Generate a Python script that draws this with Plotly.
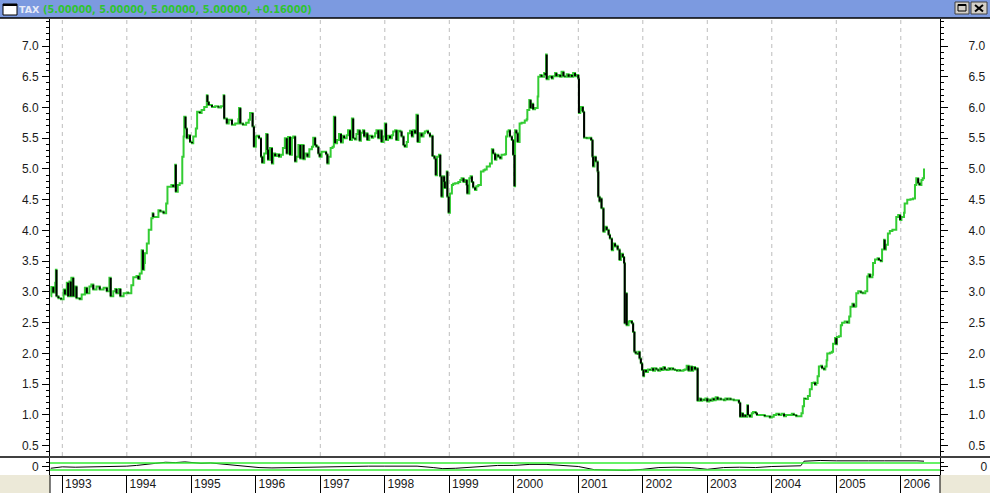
"""TAX rate chart with its oscillator pane, drawn with plotly."""

import plotly.graph_objects as go

# weekly-ish closes (decimal years, rate)
YEARS = [
    1992.82, 1992.83, 1992.86, 1992.89, 1992.90, 1992.91, 1992.94, 1992.98,
    1993.02, 1993.04, 1993.07, 1993.09, 1993.11, 1993.13, 1993.14, 1993.17,
    1993.19, 1993.22, 1993.27, 1993.30, 1993.35, 1993.38, 1993.42, 1993.45,
    1993.48, 1993.53, 1993.58, 1993.64, 1993.69, 1993.73, 1993.75, 1993.79,
    1993.82, 1993.84, 1993.88, 1993.90, 1993.95, 1994.00,
    1994.02, 1994.07, 1994.10, 1994.15, 1994.18, 1994.20, 1994.23, 1994.25,
    1994.27, 1994.28, 1994.31, 1994.34, 1994.38, 1994.40, 1994.41, 1994.44,
    1994.49, 1994.52, 1994.57, 1994.59, 1994.61, 1994.63, 1994.69, 1994.72,
    1994.75, 1994.76, 1994.79, 1994.82, 1994.86, 1994.88, 1994.89, 1994.91,
    1994.93, 1994.95, 1994.98, 1995.01, 1995.03, 1995.07, 1995.09, 1995.13,
    1995.16, 1995.20, 1995.24, 1995.25, 1995.27, 1995.32, 1995.37, 1995.42,
    1995.46, 1995.50, 1995.51, 1995.55, 1995.58, 1995.63, 1995.68, 1995.73,
    1995.74, 1995.76, 1995.80, 1995.85, 1995.89,
    1995.91, 1995.95, 1995.97, 1996.00, 1996.02, 1996.05, 1996.08, 1996.10,
    1996.13, 1996.16, 1996.18, 1996.19, 1996.22, 1996.25, 1996.27, 1996.30,
    1996.33, 1996.36, 1996.39, 1996.42, 1996.45, 1996.48, 1996.50, 1996.53,
    1996.56, 1996.58, 1996.61, 1996.63, 1996.66, 1996.69, 1996.71, 1996.74,
    1996.76, 1996.80, 1996.83, 1996.87, 1996.89, 1996.92, 1996.94, 1996.97,
    1996.99, 1997.02, 1997.06, 1997.09, 1997.11, 1997.13, 1997.16, 1997.19,
    1997.21, 1997.23, 1997.26, 1997.29, 1997.32, 1997.35, 1997.37, 1997.41,
    1997.43, 1997.46, 1997.49, 1997.51, 1997.54, 1997.56, 1997.58, 1997.61,
    1997.63, 1997.66, 1997.68, 1997.71, 1997.73, 1997.76, 1997.80, 1997.82,
    1997.85, 1997.87, 1997.90, 1997.93, 1997.95, 1997.98, 1998.00, 1998.02,
    1998.05, 1998.08, 1998.11, 1998.13, 1998.16, 1998.18, 1998.21, 1998.24,
    1998.26, 1998.29, 1998.31, 1998.34, 1998.36, 1998.39, 1998.42, 1998.44,
    1998.47, 1998.49, 1998.51, 1998.54, 1998.57, 1998.60, 1998.62, 1998.65,
    1998.67, 1998.70, 1998.73, 1998.74, 1998.77, 1998.79, 1998.81, 1998.84,
    1998.86, 1998.88, 1998.90, 1998.92, 1998.93, 1998.96, 1998.97, 1998.99,
    1999.01, 1999.04, 1999.06, 1999.09, 1999.11, 1999.14, 1999.17, 1999.19,
    1999.22, 1999.24, 1999.27, 1999.28, 1999.31, 1999.33, 1999.35, 1999.37,
    1999.40, 1999.42, 1999.45, 1999.48, 1999.49, 1999.53, 1999.55, 1999.58,
    1999.61, 1999.63, 1999.66, 1999.68, 1999.71, 1999.73, 1999.76, 1999.79,
    1999.81, 1999.84, 1999.86, 1999.88, 1999.90, 1999.92, 1999.94, 1999.97,
    1999.99, 2000.01, 2000.02, 2000.04, 2000.06, 2000.09,
    2000.12, 2000.17, 2000.20, 2000.21, 2000.24, 2000.26, 2000.29, 2000.30,
    2000.33, 2000.37, 2000.38, 2000.41, 2000.43, 2000.47, 2000.49, 2000.50,
    2000.51, 2000.54, 2000.56, 2000.59, 2000.61, 2000.64, 2000.66, 2000.69,
    2000.72, 2000.74, 2000.77, 2000.79, 2000.82, 2000.85, 2000.87, 2000.90,
    2000.92, 2000.95, 2000.97, 2001.00, 2001.01, 2001.03, 2001.04, 2001.07,
    2001.09, 2001.13, 2001.17, 2001.20, 2001.22, 2001.23, 2001.25, 2001.27,
    2001.30, 2001.31, 2001.33, 2001.34, 2001.36, 2001.39, 2001.41, 2001.44,
    2001.47, 2001.49, 2001.52, 2001.54, 2001.57, 2001.59, 2001.61, 2001.64,
    2001.66, 2001.69, 2001.71, 2001.72, 2001.73, 2001.75, 2001.78, 2001.80,
    2001.83, 2001.85, 2001.87, 2001.89, 2001.92, 2001.93, 2001.95, 2001.97,
    2001.99, 2002.01, 2002.02, 2002.05, 2002.08, 2002.11, 2002.14, 2002.16,
    2002.19, 2002.21, 2002.24, 2002.27, 2002.29, 2002.32, 2002.34, 2002.37,
    2002.40, 2002.42, 2002.45, 2002.47, 2002.50, 2002.53, 2002.55, 2002.58,
    2002.60, 2002.63, 2002.65, 2002.68, 2002.71, 2002.73, 2002.76, 2002.78,
    2002.81, 2002.83, 2002.85, 2002.88, 2002.90, 2002.92, 2002.95, 2002.97,
    2003.00, 2003.03, 2003.05, 2003.08, 2003.10, 2003.13, 2003.16, 2003.18,
    2003.21, 2003.23, 2003.26, 2003.28, 2003.31, 2003.34, 2003.36, 2003.39,
    2003.41, 2003.46, 2003.49, 2003.51,
    2003.53, 2003.55, 2003.57, 2003.59, 2003.62, 2003.63, 2003.66, 2003.69,
    2003.71, 2003.75, 2003.77, 2003.81, 2003.85, 2003.89, 2003.93, 2003.97,
    2004.00, 2004.03, 2004.07, 2004.11, 2004.15, 2004.19, 2004.22, 2004.27,
    2004.31, 2004.34, 2004.38, 2004.42, 2004.46, 2004.48, 2004.50, 2004.52,
    2004.56, 2004.59, 2004.62, 2004.65, 2004.67, 2004.69, 2004.71, 2004.73,
    2004.76, 2004.78, 2004.81, 2004.83, 2004.85, 2004.86, 2004.90, 2004.93,
    2004.95, 2004.98, 2005.00, 2005.01, 2005.04, 2005.07, 2005.09, 2005.13,
    2005.17, 2005.20, 2005.22, 2005.25, 2005.27, 2005.30, 2005.31, 2005.34,
    2005.38, 2005.41, 2005.45, 2005.48, 2005.50, 2005.52, 2005.56, 2005.57,
    2005.60, 2005.64, 2005.66, 2005.69, 2005.71, 2005.74, 2005.75, 2005.77,
    2005.80, 2005.83, 2005.87, 2005.91, 2005.93, 2005.96, 2005.99, 2006.01,
    2006.05, 2006.06, 2006.10, 2006.15, 2006.19, 2006.22, 2006.24, 2006.27,
    2006.29, 2006.32, 2006.34, 2006.36,
]
RATES = [
    2.93, 3.08, 2.99, 3.15, 3.36, 2.93, 2.90, 2.88,
    3.04, 2.96, 3.15, 2.93, 3.17, 2.93, 3.23, 2.93,
    3.09, 2.90, 2.88, 2.96, 3.07, 2.98, 3.09, 3.12,
    3.04, 3.09, 3.04, 3.07, 3.01, 3.23, 2.93, 3.01,
    3.05, 2.98, 3.05, 2.93, 2.98, 2.99,
    2.98, 3.11, 3.24, 3.26, 3.21, 3.30, 3.68, 3.36,
    3.47, 3.63, 3.79, 4.01, 4.20, 4.28, 4.22, 4.22,
    4.33, 4.31, 4.28, 4.28, 4.44, 4.71, 4.74, 4.71,
    5.07, 4.63, 4.74, 4.77, 5.20, 5.53, 5.85, 5.66,
    5.50, 5.55, 5.44, 5.42, 5.53, 5.66, 5.93, 5.91,
    5.96, 6.01, 6.20, 6.09, 6.04, 6.01, 6.02, 6.00,
    6.02, 6.20, 5.82, 5.74, 5.80, 5.72, 5.74, 5.81,
    5.99, 5.74, 5.72, 5.75, 5.80,
    5.91, 5.69, 5.36, 5.53, 5.54, 5.50, 5.20, 5.10,
    5.25, 5.57, 5.31, 5.15, 5.34, 5.09, 5.25, 5.21,
    5.24, 5.20, 5.23, 5.34, 5.50, 5.25, 5.52, 5.23,
    5.51, 5.53, 5.12, 5.20, 5.39, 5.17, 5.39, 5.16,
    5.25, 5.20, 5.32, 5.36, 5.51, 5.39, 5.36, 5.25,
    5.20, 5.28, 5.28, 5.24, 5.09, 5.20, 5.34, 5.36,
    5.85, 5.42, 5.47, 5.57, 5.43, 5.54, 5.50, 5.55,
    5.63, 5.47, 5.82, 5.50, 5.48, 5.57, 5.63, 5.46,
    5.59, 5.63, 5.53, 5.58, 5.47, 5.54, 5.51, 5.53,
    5.58, 5.63, 5.50, 5.63, 5.44, 5.53, 5.74, 5.47,
    5.54, 5.50, 5.55, 5.61, 5.63, 5.47, 5.62, 5.61,
    5.53, 5.39, 5.36, 5.44, 5.58, 5.62, 5.53, 5.63,
    5.58, 5.88, 5.44, 5.58, 5.53, 5.58, 5.61, 5.62,
    5.58, 5.53, 5.54, 5.21, 5.17, 4.90, 5.20, 5.23,
    4.88, 4.55, 4.88, 4.79, 4.69, 4.96, 4.55, 4.29,
    4.60, 4.74, 4.76, 4.77, 4.77, 4.79, 4.82, 4.85,
    4.79, 4.82, 4.74, 4.60, 4.85, 4.88, 4.79, 4.70,
    4.66, 4.72, 4.74, 4.74, 4.96, 4.98, 4.99, 5.04,
    5.04, 5.09, 5.32, 5.25, 5.15, 5.23, 5.20, 5.17,
    5.23, 5.23, 5.24, 5.53, 5.61, 5.63, 5.53, 5.47,
    5.23, 4.72, 5.63, 5.58, 5.44, 5.74,
    5.75, 5.79, 5.81, 5.96, 6.12, 5.99, 6.06, 5.97,
    5.99, 6.18, 6.50, 6.53, 6.50, 6.56, 6.53, 6.86,
    6.46, 6.50, 6.51, 6.47, 6.51, 6.56, 6.51, 6.53,
    6.50, 6.58, 6.51, 6.50, 6.54, 6.50, 6.53, 6.50,
    6.56, 6.51, 6.53, 6.47, 5.91, 5.96, 6.01, 5.93,
    5.51, 5.50, 5.51, 5.47, 5.20, 5.04, 5.20, 5.12,
    4.96, 4.55, 4.47, 4.52, 4.36, 3.98, 4.06, 4.01,
    3.93, 3.87, 3.68, 3.79, 3.74, 3.75, 3.69, 3.52,
    3.62, 3.57, 3.47, 2.49, 2.98, 2.46, 2.52, 2.53,
    2.49, 2.35, 2.03, 2.00, 1.99, 2.03, 1.92, 1.84,
    1.73, 1.63, 1.73, 1.70, 1.74, 1.73, 1.76, 1.72,
    1.76, 1.74, 1.72, 1.76, 1.73, 1.78, 1.74, 1.73,
    1.76, 1.74, 1.76, 1.74, 1.73, 1.72, 1.73, 1.72,
    1.72, 1.73, 1.74, 1.80, 1.72, 1.79, 1.72, 1.78,
    1.74, 1.76, 1.23, 1.27, 1.23, 1.25, 1.24, 1.27,
    1.22, 1.25, 1.23, 1.27, 1.24, 1.29, 1.25, 1.27,
    1.25, 1.25, 1.24, 1.27, 1.25, 1.27, 1.25, 1.25,
    1.24, 1.24, 1.20, 0.97,
    1.03, 0.97, 1.00, 0.97, 1.16, 1.00, 0.97, 1.03,
    1.05, 1.03, 1.00, 1.00, 1.00, 0.98, 0.98, 0.96,
    0.97, 1.00, 1.02, 1.00, 1.02, 0.98, 1.00, 1.00,
    1.02, 1.00, 0.98, 0.98, 1.03, 1.14, 1.27, 1.26,
    1.31, 1.42, 1.52, 1.53, 1.49, 1.52, 1.63, 1.79,
    1.80, 1.76, 1.74, 1.79, 1.89, 2.00, 2.01, 2.03,
    2.16, 2.25, 2.15, 2.27, 2.28, 2.46, 2.50, 2.52,
    2.50, 2.60, 2.76, 2.81, 2.76, 2.77, 2.98, 3.01,
    2.99, 2.98, 3.01, 3.25, 3.29, 3.24, 3.28, 3.47,
    3.53, 3.55, 3.52, 3.50, 3.69, 3.85, 3.69, 3.77,
    3.95, 3.99, 4.01, 4.01, 4.22, 4.25, 4.17, 4.22,
    4.29, 4.44, 4.50, 4.51, 4.52, 4.74, 4.85, 4.77,
    4.74, 4.82, 4.85, 5.01,
]

# lower pane oscillator
OSC_YEARS = [
    1992.82, 1992.90, 1993.00, 1993.20, 1993.40, 1993.60, 1993.80, 1994.00,
    1994.15, 1994.30, 1994.45, 1994.60, 1994.75, 1994.90, 1995.00, 1995.15,
    1995.30, 1995.45, 1995.60, 1995.75, 1995.90, 1996.05, 1996.25, 1996.50,
    1996.75, 1997.00, 1997.25, 1997.50, 1997.75, 1998.00, 1998.25, 1998.50,
    1998.75, 1998.90, 1999.10, 1999.30, 1999.50, 1999.75, 2000.00, 2000.25,
    2000.50, 2000.75, 2001.00, 2001.25, 2001.50, 2001.75, 2002.00, 2002.25,
    2002.50, 2002.75, 2003.00, 2003.25, 2003.50, 2003.75, 2004.00, 2004.25,
    2004.45, 2004.50, 2004.75, 2005.00, 2005.25, 2005.50, 2005.75, 2006.00,
    2006.25, 2006.36,
]
OSC_VALUES = [
    -0.25, -0.20, -0.05, -0.10, -0.05, 0.00, -0.05, 0.05,
    0.15, 0.35, 0.45, 0.60, 0.55, 0.65, 0.55, 0.45,
    0.50, 0.35, 0.30, 0.10, 0.00, -0.15, -0.20, -0.15,
    -0.10, -0.05, 0.05, 0.05, 0.05, 0.05, 0.00, 0.05,
    -0.15, -0.30, -0.25, -0.10, 0.05, 0.15, 0.15, 0.30,
    0.30, 0.20, 0.00, -0.45, -0.50, -0.55, -0.40, -0.15,
    -0.10, -0.15, -0.40, -0.15, -0.10, -0.15, 0.00, 0.05,
    0.10, 0.75, 0.85, 0.80, 0.85, 0.80, 0.80, 0.85,
    0.80, 0.75,
]
OSC_LEVELS = [0.5, -0.5]

TICK_YEARS = list(range(1993, 2007))
TITLE = "TAX"
TITLE_VALUES = "(5.00000, 5.00000, 5.00000, 5.00000, +0.16000)"

UP_COLOR = "#33cc33"
DOWN_COLOR = "#000000"
FONT = "Liberation Sans, Arial, sans-serif"
TITLE_FONT = "DejaVu Sans, Verdana, sans-serif"

# page geometry in pixels
WIDTH, HEIGHT = 990, 493
LEFT, RIGHT, TOP, BOTTOM = 50, 50, 19, 18
PLOT_W = WIDTH - LEFT - RIGHT
PLOT_H = HEIGHT - TOP - BOTTOM


def px_x(pixel: float) -> float:
    """pixel column -> paper x"""
    return (pixel - LEFT) / PLOT_W


def px_y(pixel: float) -> float:
    """pixel row -> paper y"""
    return (HEIGHT - BOTTOM - pixel) / PLOT_H


MAIN_DOMAIN = [px_y(456), 1]
LOWER_DOMAIN = [0, px_y(458)]


def falling_steps(x_values: list, y_values: list) -> tuple:
    """
    Vertical drops of a stepped line, so they can be painted black

    Returns:
        tuple: (x, y) with None gaps between the drops
    """
    drop_x, drop_y = [], []
    for i in range(1, len(y_values)):
        if y_values[i] < y_values[i - 1]:
            drop_x += [x_values[i], x_values[i], None]
            drop_y += [y_values[i - 1], y_values[i], None]
    return drop_x, drop_y


def add_window_chrome(fig: go.Figure) -> None:
    """Title bar, icon, buttons and grey corners round the chart"""
    shapes = [
        # title bar
        dict(type="rect", x0=px_x(0), x1=px_x(WIDTH), y0=px_y(18), y1=px_y(0),
             fillcolor="#7c9ae0", line_width=0),
        dict(type="line", x0=px_x(0), x1=px_x(WIDTH), y0=px_y(18), y1=px_y(18),
             line=dict(color="black", width=1.5)),
        # window icon
        dict(type="rect", x0=px_x(3), x1=px_x(17), y0=px_y(15), y1=px_y(4),
             fillcolor="white", line=dict(color="black", width=1)),
        dict(type="line", x0=px_x(3), x1=px_x(17), y0=px_y(5), y1=px_y(5),
             line=dict(color="black", width=2)),
        # maximise button
        dict(type="rect", x0=px_x(955), x1=px_x(969), y0=px_y(14), y1=px_y(2),
             fillcolor="#d4d0c8", line=dict(color="#404040", width=1)),
        dict(type="rect", x0=px_x(958), x1=px_x(966), y0=px_y(11), y1=px_y(4.5),
             line=dict(color="black", width=1)),
        dict(type="line", x0=px_x(958), x1=px_x(966), y0=px_y(5), y1=px_y(5),
             line=dict(color="black", width=2)),
        # close button
        dict(type="rect", x0=px_x(971), x1=px_x(987), y0=px_y(14), y1=px_y(2),
             fillcolor="#d4d0c8", line=dict(color="#404040", width=1)),
        dict(type="line", x0=px_x(975), x1=px_x(983), y0=px_y(5), y1=px_y(11.5),
             line=dict(color="black", width=2)),
        dict(type="line", x0=px_x(975), x1=px_x(983), y0=px_y(11.5), y1=px_y(5),
             line=dict(color="black", width=2)),
        # grey corners beside the date row
        dict(type="rect", x0=px_x(0), x1=px_x(LEFT), y0=px_y(HEIGHT), y1=px_y(475),
             fillcolor="#ece9d8", line_width=0),
        dict(type="rect", x0=px_x(WIDTH - RIGHT), x1=px_x(WIDTH), y0=px_y(HEIGHT),
             y1=px_y(475), fillcolor="#ece9d8", line_width=0),
        # borders
        dict(type="line", x0=0, x1=0, y0=px_y(HEIGHT), y1=0,
             line=dict(color="black", width=1)),
        dict(type="line", x0=1, x1=1, y0=px_y(HEIGHT), y1=0,
             line=dict(color="black", width=1)),
        dict(type="line", x0=px_x(0), x1=px_x(WIDTH), y0=px_y(457), y1=px_y(457),
             line=dict(color="black", width=1.5)),
    ]
    for shape in shapes:
        fig.add_shape(xref="paper", yref="paper", layer="above", **shape)

    fig.add_annotation(
        text=f"<b>{TITLE}</b>", xref="paper", yref="paper", x=px_x(17), y=px_y(9.5),
        xanchor="left", yanchor="middle", showarrow=False,
        font=dict(family=TITLE_FONT, size=9.5, color="#e6eaf8"),
    )
    fig.add_annotation(
        text=f"<b>{TITLE_VALUES}</b>", xref="paper", yref="paper", x=px_x(41),
        y=px_y(9.5), xanchor="left", yanchor="middle", showarrow=False,
        font=dict(family=TITLE_FONT, size=9.8, color="#2fc42f"),
    )


def create_graph() -> go.Figure:
    """Build the whole chart"""
    drop_x, drop_y = falling_steps(YEARS, RATES)

    fig = go.Figure()
    # stepped weekly line: flats and rises in green, drops painted black on top
    fig.add_trace(go.Scatter(x=YEARS, y=RATES, mode="lines", yaxis="y",
                             line=dict(color=UP_COLOR, width=2, shape="hv"),
                             hoverinfo="skip"))
    fig.add_trace(go.Scatter(x=drop_x, y=drop_y, mode="lines", yaxis="y",
                             line=dict(color=DOWN_COLOR, width=2), hoverinfo="skip"))
    # invisible companions so the right hand axes get drawn
    fig.add_trace(go.Scatter(x=YEARS[:1], y=RATES[:1], yaxis="y2", mode="markers",
                             marker_opacity=0, hoverinfo="skip"))
    fig.add_trace(go.Scatter(x=OSC_YEARS, y=OSC_VALUES, mode="lines", yaxis="y3",
                             line=dict(color="black", width=1), hoverinfo="skip"))
    fig.add_trace(go.Scatter(x=OSC_YEARS[:1], y=OSC_VALUES[:1], yaxis="y4",
                             mode="markers", marker_opacity=0, hoverinfo="skip"))

    for level in OSC_LEVELS:
        fig.add_shape(type="line", xref="x domain", x0=0, x1=1, yref="y3",
                      y0=level, y1=level, line=dict(color="#33ee33", width=1.5))

    # dashed year lines in the upper pane only
    for year in TICK_YEARS:
        fig.add_shape(type="line", xref="x", x0=year, x1=year, yref="paper",
                      y0=MAIN_DOMAIN[0], y1=1, layer="below",
                      line=dict(color="#bdbdbd", width=1, dash="4px,4px"))

    tick_font = dict(family=FONT, size=12, color="#1a1a1a")
    rate_axis = dict(
        domain=MAIN_DOMAIN, range=[0.333, 7.439], dtick=0.5, tickformat=".1f",
        ticks="outside", ticklen=7, tickcolor="black", showline=True,
        linecolor="black", showgrid=False, zeroline=False, tickfont=tick_font,
        automargin=False,
        minor=dict(dtick=0.1, ticks="outside", ticklen=3, tickcolor="black"),
    )
    osc_axis = dict(
        domain=LOWER_DOMAIN, range=[-1.2, 1.2], tickvals=[0], ticktext=["0"],
        ticks="outside", ticklen=7, tickcolor="black", showline=True,
        linecolor="black", showgrid=False, zeroline=False, tickfont=tick_font,
        automargin=False,
        minor=dict(tickvals=[-0.6, 0.6], ticks="outside", ticklen=3,
                   tickcolor="black"),
    )

    fig.update_layout(
        width=WIDTH,
        height=HEIGHT,
        margin=dict(l=LEFT, r=RIGHT, t=TOP, b=BOTTOM, pad=0, autoexpand=False),
        paper_bgcolor="white",
        plot_bgcolor="white",
        showlegend=False,
        xaxis=dict(
            anchor="y3", range=[1992.809, 2006.608], tickvals=TICK_YEARS,
            ticktext=[str(year) for year in TICK_YEARS], ticks="outside",
            ticklen=18, tickcolor="black", showline=True, linecolor="black",
            showgrid=False, zeroline=False, tickfont=tick_font, automargin=False,
            ticklabelshift=16, ticklabelstandoff=-20,
        ),
        yaxis=dict(rate_axis, side="left", ticklabelstandoff=1),
        yaxis2=dict(rate_axis, side="right", overlaying="y", matches="y",
                    ticklabelstandoff=18),
        yaxis3=dict(osc_axis, side="left", ticklabelstandoff=1),
        yaxis4=dict(osc_axis, side="right", overlaying="y3", matches="y3",
                    ticklabelstandoff=30),
    )
    add_window_chrome(fig)
    return fig


fig = create_graph()
# drop the browser's default body margin so the chart sits at the page corner
fig.write_html(
    "out.html",
    config={"displayModeBar": False},
    post_script="document.body.style.margin = '0';",
)
